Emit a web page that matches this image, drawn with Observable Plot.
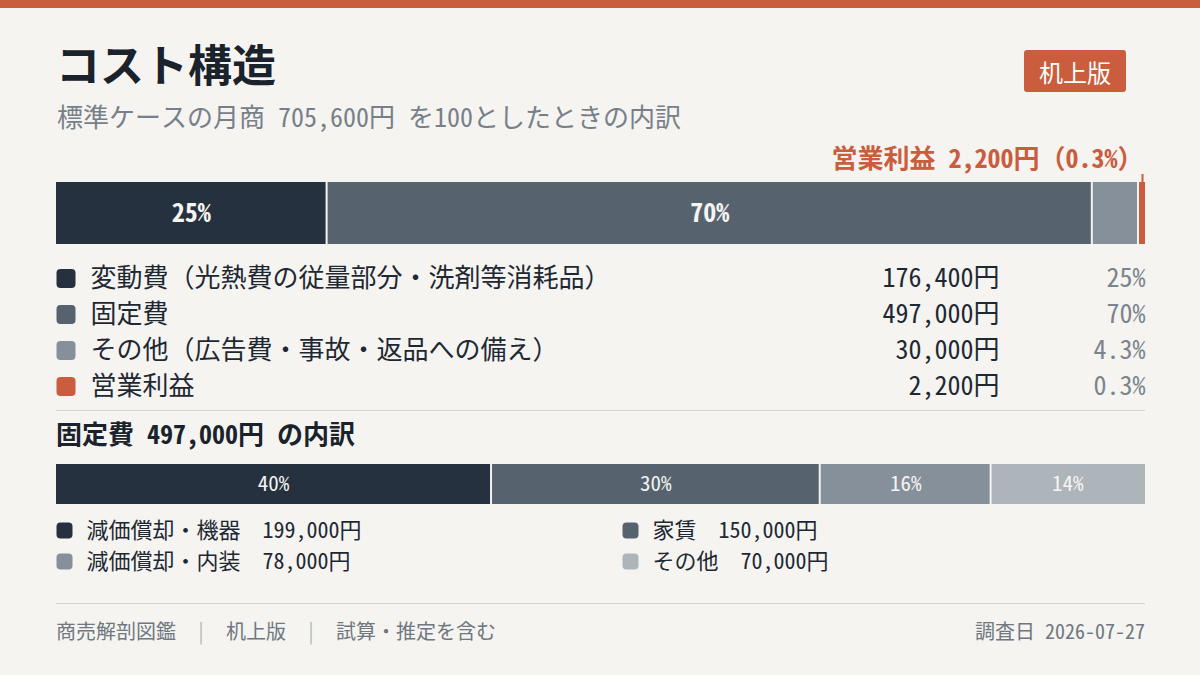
<!DOCTYPE html>
<html lang="ja">
<head>
<meta charset="utf-8">
<script src="https://cdn.jsdelivr.net/npm/d3@7"></script>
<script src="https://cdn.jsdelivr.net/npm/@observablehq/plot@0.6"></script>
<style>
  html, body { margin: 0; padding: 0; background: #f5f4f0; }
  body { font-family: "Noto Sans Mono CJK JP", "Noto Sans CJK JP", sans-serif; }
  #root { position: relative; width: 1200px; height: 675px; overflow: hidden; background: #f5f4f0; }
  .abs { position: absolute; }
  #stripe { left: 0; top: 0; width: 1200px; height: 8px; background: #c95d3d; }
  #title { left: 56px; top: 41px; font-size: 44px; line-height: 1; font-weight: 700; color: #1a222b; white-space: nowrap; }
  #subtitle { left: 57px; top: 103px; font-size: 26px; line-height: 1; color: #77808a; white-space: nowrap; }
  #badge { left: 1024px; top: 50px; width: 102px; height: 42px; background: #c95d3d; color: #ffffff; border-radius: 3px;
           display: flex; align-items: center; justify-content: center; font-size: 24px; font-weight: 500; }
  #divider { left: 56px; top: 410px; width: 1089px; height: 0; border-top: 1px solid #d6d4cf; }
  #subhead { left: 56px; top: 420px; font-size: 26px; line-height: 1; font-weight: 700; color: #1a222b; white-space: nowrap; }
  #footline { left: 56px; top: 603px; width: 1089px; height: 0; border-top: 1px solid #d6d4cf; }
  #footleft { left: 56px; top: 621px; font-size: 20px; line-height: 1; color: #6f7780; white-space: nowrap; }
  #footleft .sep { color: #b3b7bb; margin: 0 20px; }
  #footright { right: 55px; top: 621px; font-size: 20px; line-height: 1; color: #6f7780; white-space: nowrap; text-align: right; }
  svg { overflow: visible; }
</style>
</head>
<body>
<div id="root">
  <div id="stripe" class="abs"></div>
  <div id="title" class="abs"></div>
  <div id="subtitle" class="abs"></div>
  <div id="badge" class="abs"></div>
  <div id="mainbar" class="abs" style="left:0;top:130px;"></div>
  <div id="mainlegend" class="abs" style="left:0;top:260px;"></div>
  <div id="divider" class="abs"></div>
  <div id="subhead" class="abs"></div>
  <div id="fixedbar" class="abs" style="left:0;top:455px;"></div>
  <div id="fixedlegend" class="abs" style="left:0;top:515px;"></div>
  <div id="footline" class="abs"></div>
  <div id="footleft" class="abs"></div>
  <div id="footright" class="abs"></div>
</div>
<script>
// ---- Data ----
const titleText = "コスト構造";
const badgeText = "机上版";
const mainCategories = ["変動費（光熱費の従量部分・洗剤等消耗品）", "固定費", "その他（広告費・事故・返品への備え）", "営業利益"];
const mainValues = [176400, 497000, 30000, 2200];
const mainPctLabels = ["25%", "70%", "4.3%", "0.3%"];
const mainColors = ["#25313e", "#56636f", "#85909a", "#c95d3d"];

const fixedCategories = ["減価償却・機器", "家賃", "減価償却・内装", "その他"];
const fixedValues = [199000, 150000, 78000, 70000];
const fixedPctLabels = ["40%", "30%", "16%", "14%"];
const fixedColors = ["#25313e", "#56636f", "#85909a", "#adb4ba"];

const footerItems = ["商売解剖図鑑", "机上版", "試算・推定を含む"];
const surveyDate = "2026-07-27";

// ---- Helpers ----
const fmt = d3.format(",");
const FONT = '"Noto Sans Mono CJK JP", "Noto Sans CJK JP", sans-serif';
const BG = "#f5f4f0";
const INK = "#1e2833";

function roundedSquare(radius) {
  return {
    draw(ctx, size) {
      const h = Math.sqrt(size / Math.PI);
      const k = Math.min(radius, h);
      ctx.moveTo(-h + k, -h);
      ctx.lineTo(h - k, -h);
      ctx.arcTo(h, -h, h, -h + k, k);
      ctx.lineTo(h, h - k);
      ctx.arcTo(h, h, h - k, h, k);
      ctx.lineTo(-h + k, h);
      ctx.arcTo(-h, h, -h, h - k, k);
      ctx.lineTo(-h, -h + k);
      ctx.arcTo(-h, -h, -h + k, -h, k);
      ctx.closePath();
    }
  };
}

// stacked segments; very small shares get a minimum visible width
function segments(cats, vals, pcts, minShare) {
  const total = d3.sum(vals);
  const small = vals.map(v => v / total < minShare);
  const bumped = d3.sum(vals, (v, i) => small[i] ? minShare * total : 0);
  const rest = d3.sum(vals, (v, i) => small[i] ? 0 : v);
  const k = (total - bumped) / rest;
  const disp = vals.map((v, i) => small[i] ? minShare * total : v * k);
  const ends = Array.from(d3.cumsum(disp));
  return cats.map((c, i) => ({
    category: c, value: vals[i], pct: pcts[i], share: vals[i] / total,
    x1: ends[i] - disp[i], x2: ends[i], idx: i, col: i % 2, row: Math.floor(i / 2)
  }));
}

const mainTotal = d3.sum(mainValues);
const fixedTotal = d3.sum(fixedValues);
const main = segments(mainCategories, mainValues, mainPctLabels, 0.0055);
const fixed = segments(fixedCategories, fixedValues, fixedPctLabels, 0);

// ---- Header text ----
document.getElementById("title").textContent = titleText;
document.getElementById("subtitle").textContent = `標準ケースの月商 ${fmt(mainTotal)}円 を100としたときの内訳`;
document.getElementById("badge").textContent = badgeText;
document.getElementById("subhead").textContent = `${mainCategories[1]} ${fmt(fixedTotal)}円 の内訳`;

// ---- Main stacked bar ----
const mainColor = { domain: mainCategories, range: mainColors };
const profit = main.slice(-1);
const mainBar = Plot.plot({
  width: 1200, height: 120,
  marginLeft: 56, marginRight: 55, marginTop: 52, marginBottom: 6,
  x: { domain: [0, mainTotal], axis: null },
  color: mainColor,
  style: { fontFamily: FONT, background: "transparent", overflow: "visible" },
  marks: [
    Plot.rectX(main.slice(0, -1), { x1: "x1", x2: "x2", fill: "category", insetRight: 2 }),
    Plot.rectX(profit, { x1: "x1", x2: "x2", fill: "category" }),
    Plot.text(main.filter(d => d.share >= 0.1), {
      x: d => (d.x1 + d.x2) / 2, dx: -1, text: "pct", frameAnchor: "middle",
      fill: BG, fontSize: 26, fontWeight: 700
    }),
    Plot.ruleX(profit, { x: d => (d.x1 + d.x2) / 2, stroke: "category", strokeWidth: 2, insetTop: -8, insetBottom: 62 }),
    Plot.text(profit, {
      x: "x2", text: d => `${d.category} ${fmt(d.value)}円（${d.pct}）`,
      frameAnchor: "top", dy: -33, dx: -2, textAnchor: "end",
      fill: "category", fontSize: 26, fontWeight: 700
    })
  ]
});
document.getElementById("mainbar").appendChild(mainBar);

// ---- Main legend ----
const mainLegend = Plot.plot({
  width: 1200, height: 140,
  marginLeft: 56, marginRight: 55, marginTop: 0, marginBottom: 0,
  y: { type: "point", domain: mainCategories, range: [18, 126], padding: 0, axis: null },
  color: mainColor,
  style: { fontFamily: FONT, background: "transparent", overflow: "visible" },
  marks: [
    Plot.dot(main, { y: "category", frameAnchor: "left", dx: 9.5, r: 9.5, symbol: roundedSquare(4), fill: "category" }),
    Plot.text(main, { y: "category", text: "category", frameAnchor: "left", dx: 34, textAnchor: "start", fill: INK, fontSize: 26 }),
    Plot.text(main, { y: "category", text: d => `${fmt(d.value)}円`, frameAnchor: "right", dx: -146, textAnchor: "end", fill: INK, fontSize: 26 }),
    Plot.text(main, { y: "category", text: "pct", frameAnchor: "right", textAnchor: "end", fill: "#7b848d", fontSize: 26 })
  ]
});
document.getElementById("mainlegend").appendChild(mainLegend);

// ---- Fixed-cost stacked bar ----
const fixedColor = { domain: fixedCategories, range: fixedColors };
const fixedBar = Plot.plot({
  width: 1200, height: 55,
  marginLeft: 56, marginRight: 55, marginTop: 9, marginBottom: 6,
  x: { domain: [0, fixedTotal], axis: null },
  color: fixedColor,
  style: { fontFamily: FONT, background: "transparent", overflow: "visible" },
  marks: [
    Plot.rectX(fixed.slice(0, -1), { x1: "x1", x2: "x2", fill: "category", insetRight: 2 }),
    Plot.rectX(fixed.slice(-1), { x1: "x1", x2: "x2", fill: "category" }),
    Plot.text(fixed, {
      x: d => (d.x1 + d.x2) / 2, dx: -1, text: "pct", frameAnchor: "middle",
      fill: BG, fontSize: 21, fontWeight: 500
    })
  ]
});
document.getElementById("fixedbar").appendChild(fixedBar);

// ---- Fixed-cost legend (2 columns) ----
const fixedLegend = Plot.plot({
  width: 1200, height: 62,
  marginLeft: 0, marginRight: 0, marginTop: 0, marginBottom: 0,
  x: { type: "point", domain: [0, 1], range: [64, 630], padding: 0, axis: null },
  y: { type: "point", domain: [0, 1], range: [15, 46], padding: 0, axis: null },
  color: fixedColor,
  style: { fontFamily: FONT, background: "transparent", overflow: "visible" },
  marks: [
    Plot.dot(fixed, { x: "col", y: "row", r: 8, symbol: roundedSquare(4), fill: "category" }),
    Plot.text(fixed, {
      x: "col", y: "row", dx: 22, textAnchor: "start",
      text: d => `${d.category}　${fmt(d.value)}円`, fill: INK, fontSize: 22
    })
  ]
});
document.getElementById("fixedlegend").appendChild(fixedLegend);

// ---- Footer ----
const fl = document.getElementById("footleft");
footerItems.forEach((t, i) => {
  if (i > 0) { const s = document.createElement("span"); s.className = "sep"; s.textContent = "|"; fl.appendChild(s); }
  const sp = document.createElement("span"); sp.textContent = t; fl.appendChild(sp);
});
document.getElementById("footright").textContent = `調査日 ${surveyDate}`;
</script>
</body>
</html>
